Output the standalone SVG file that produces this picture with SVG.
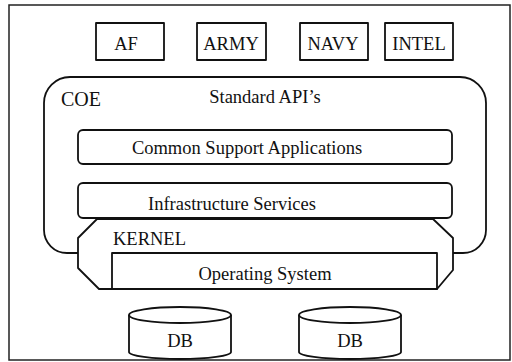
<svg xmlns="http://www.w3.org/2000/svg" width="512" height="362" viewBox="0 0 512 362">
<style>
.s{fill:#fff;stroke:#111;stroke-width:1.8;stroke-linejoin:round}
.f{fill:none;stroke:#222;stroke-width:1.5}
.t{font-family:"Liberation Serif","Times New Roman",serif;font-size:18.5px;fill:#111}
.m{text-anchor:middle}
</style>
<rect width="512" height="362" fill="#fff"/>
<rect id="frame" class="f" x="9" y="5" width="501" height="355"/>
<g id="af"><rect class="s" x="96" y="23" width="68" height="37"/><text class="t m" x="126" y="50">AF</text></g>
<g id="army"><rect class="s" x="197" y="23" width="69" height="37"/><text class="t m" x="231" y="50">ARMY</text></g>
<g id="navy"><rect class="s" x="300" y="23" width="68" height="37"/><text class="t m" x="333" y="50">NAVY</text></g>
<g id="intel"><rect class="s" x="385" y="23" width="68" height="37"/><text class="t m" x="419" y="50">INTEL</text></g>
<g id="coe">
<path class="s" d="M78,253 H67 A23,23 0 0 1 44,230 V103 A26,26 0 0 1 70,77 H460 A26,26 0 0 1 486,103 V230 A23,23 0 0 1 463,253 H453"/>
<text class="t" x="61" y="106" style="font-size:20px">COE</text>
<text class="t m" x="265" y="103">Standard API’s</text>
</g>
<g id="kernel">
<path class="s" d="M97,219 L78,238 V268 L99,289 H437 L453,270 V238 L433,219 Z"/>
<text class="t" x="113" y="245">KERNEL</text>
</g>
<g id="csa"><rect class="s" x="78" y="130" width="374" height="34" rx="5"/><text class="t m" x="247" y="154">Common Support Applications</text></g>
<g id="infra"><rect class="s" x="78" y="183" width="374" height="35" rx="5"/><text class="t m" x="232" y="210">Infrastructure Services</text></g>
<g id="os"><rect class="s" x="112" y="253" width="325" height="36"/><text class="t m" x="265" y="280">Operating System</text></g>
<g id="db1">
<path class="s" d="M129,315 V352 A51,7 0 0 0 231,352 V315"/>
<ellipse class="s" cx="180" cy="315" rx="51" ry="8"/>
<text class="t m" x="180" y="347">DB</text>
</g>
<g id="db2">
<path class="s" d="M299,315 V352 A51,7 0 0 0 401,352 V315"/>
<ellipse class="s" cx="350" cy="315" rx="51" ry="8"/>
<text class="t m" x="350" y="347">DB</text>
</g>
<g id="connectors"/>
</svg>
